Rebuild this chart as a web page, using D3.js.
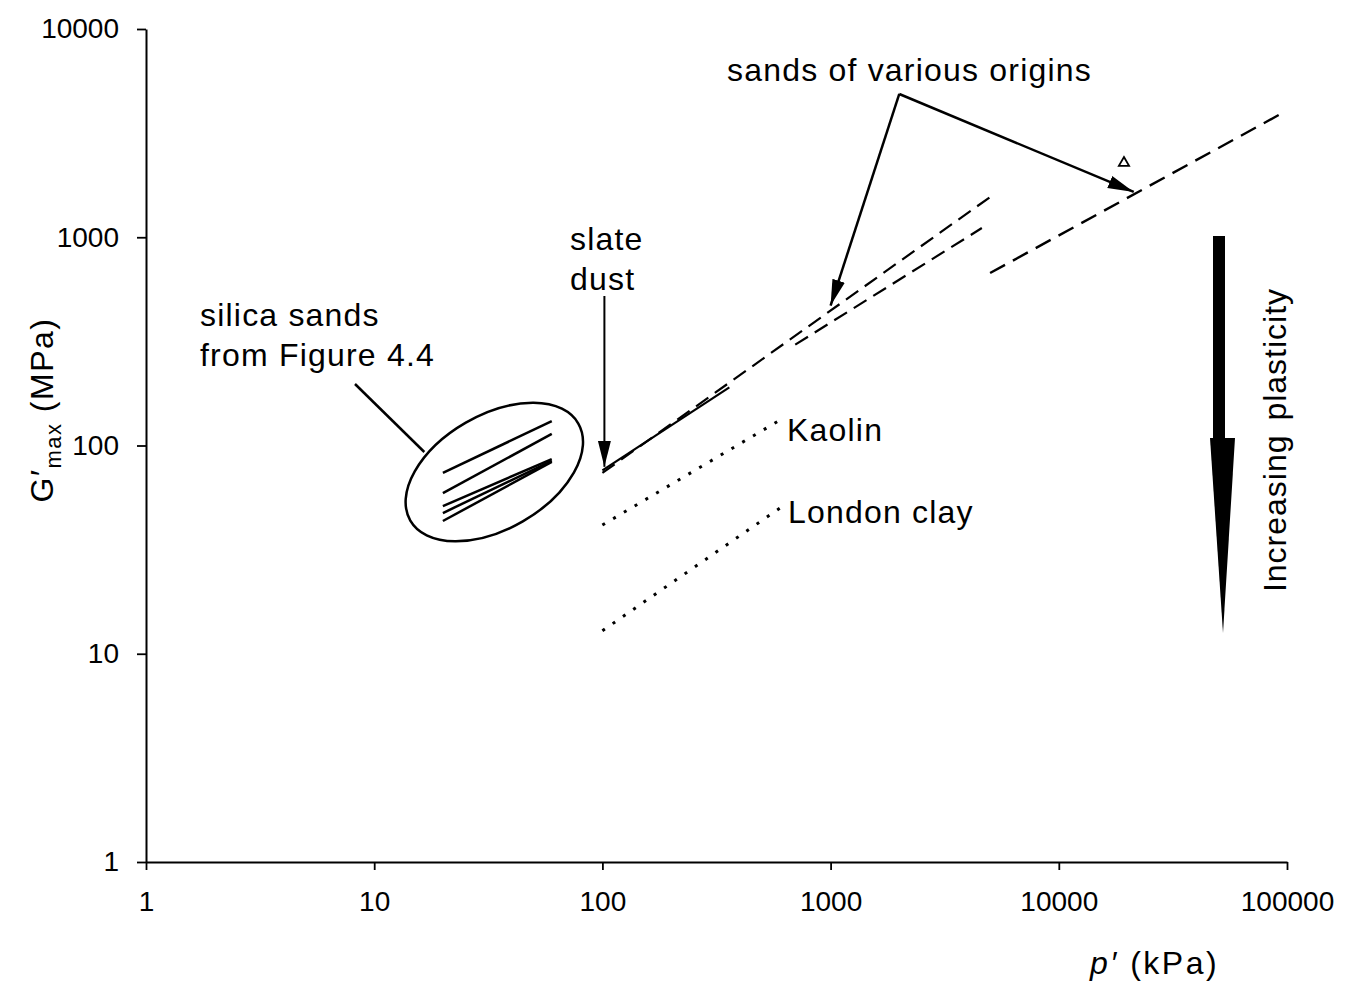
<!DOCTYPE html>
<html><head><meta charset="utf-8">
<script src="https://cdn.jsdelivr.net/npm/d3@7"></script>
<style>
body{margin:0;background:#fff}
text{font-family:"Liberation Sans",Arial,Helvetica,sans-serif;fill:#000}
</style>
</head><body>
<svg id="c" width="1349" height="982"></svg>
<script>
// ---------- data ----------
const xTickValues = [1, 10, 100, 1000, 10000, 100000];
const xTickLabels = ["1", "10", "100", "1000", "10000", "100000"];
const yTickValues = [1, 10, 100, 1000, 10000];
const yTickLabels = ["1", "10", "100", "1000", "10000"];

// silica sands from Figure 4.4 (solid lines, p' 20 -> 60 kPa)
const silicaP = [20, 60];
const silicaStartG = [73.8, 59.1, 51.2, 47.4, 43.4];
const silicaEndG = [131, 113.6, 86.1, 84.3, 83.4];

// slate dust (solid, hand-drawn)
const slateDustP = [100, 360];
const slateDustG = [76, 190];

// sands of various origins (dashed)
const sandUpperP = [100, 5000];
const sandUpperG = [73.8, 1560];
const sandLowerP = [700, 4600];
const sandLowerG = [305, 1107];
const sandHighP = [5000, 92000];
const sandHighG = [673, 3864];
const triangleP = [19300];
const triangleG = [2275];

// clays (dotted)
const kaolinP = [100, 600];
const kaolinG = [41.5, 132.5];
const londonP = [100, 600];
const londonG = [12.9, 50.1];

// ---------- chart ----------
const svg = d3.select("#c");
const x = d3.scaleLog().domain([1, 100000]).range([146, 1287]);
const y = d3.scaleLog().domain([1, 10000]).range([862, 29]);

const defs = svg.append("defs");
defs.append("marker").attr("id", "ah").attr("markerUnits", "userSpaceOnUse")
  .attr("viewBox", "-26 -7 27 14").attr("refX", 0).attr("refY", 0)
  .attr("markerWidth", 27).attr("markerHeight", 14).attr("orient", "auto")
  .append("path").attr("d", "M0,0 L-26,-6.5 L-26,6.5 Z").attr("fill", "#000");

// axes
const minorX = x.ticks().filter(d => !xTickValues.includes(d));
const minorY = y.ticks().filter(d => !yTickValues.includes(d));

const gx = svg.append("g").attr("transform", `translate(0,${y(1)})`);
gx.call(d3.axisBottom(x).tickValues(minorX).tickSize(6).tickSizeOuter(0).tickFormat(""));
gx.call(d3.axisBottom(x).tickValues(xTickValues).tickSize(8).tickSizeOuter(0).tickPadding(21)
  .tickFormat((d, i) => xTickLabels[i]));
const gy = svg.append("g").attr("transform", `translate(${x(1)},0)`);
gy.call(d3.axisLeft(y).tickValues(minorY).tickSize(6).tickSizeOuter(0).tickFormat(""));
gy.call(d3.axisLeft(y).tickValues(yTickValues).tickSize(9).tickSizeOuter(0).tickPadding(18)
  .tickFormat((d, i) => yTickLabels[i]));
svg.selectAll(".domain").attr("stroke", "#000").attr("stroke-width", 2);
svg.selectAll(".tick line").attr("stroke", "#000").attr("stroke-width", 1.8);
svg.selectAll(".tick text").attr("font-size", 28).attr("font-family", '"Liberation Sans",Arial,sans-serif').attr("fill", "#000");

// axis titles
const yl = svg.append("text").attr("transform", `translate(53,${410}) rotate(-90)`)
  .attr("text-anchor", "middle").attr("font-size", 32).attr("letter-spacing", 1.5);
yl.append("tspan").text("G\u2032");
yl.append("tspan").attr("font-size", 22).attr("dy", 8).text("max");
yl.append("tspan").attr("dy", -8).text(" (MPa)");

const xl = svg.append("text").attr("x", 1090).attr("y", 974).attr("font-size", 32).attr("letter-spacing", 2.5);
xl.append("tspan").attr("font-style", "italic").text("p\u2032");
xl.append("tspan").text(" (kPa)");

const line = (ps, gs) => d3.line()(ps.map((p, i) => [x(p), y(gs[i])]));

// silica sands lines
silicaStartG.forEach((g0, i) => {
  svg.append("path").attr("d", line(silicaP, [g0, silicaEndG[i]]))
    .attr("stroke", "#000").attr("stroke-width", 2.5).attr("fill", "none");
});
// ellipse around them
svg.append("ellipse")
  .attr("transform", `translate(${x(33.6)},${y(74.6)}) rotate(-30)`)
  .attr("rx", 97).attr("ry", 57)
  .attr("fill", "none").attr("stroke", "#000").attr("stroke-width", 2.5);

// slate dust
svg.append("path").attr("d", line(slateDustP, slateDustG))
  .attr("stroke", "#000").attr("stroke-width", 2.2).attr("fill", "none");
// sands dashed
svg.append("path").attr("d", line(sandUpperP, sandUpperG))
  .attr("stroke", "#000").attr("stroke-width", 2.2).attr("fill", "none").attr("stroke-dasharray", "15,8");
svg.append("path").attr("d", line(sandLowerP, sandLowerG))
  .attr("stroke", "#000").attr("stroke-width", 2.2).attr("fill", "none").attr("stroke-dasharray", "15,8");
svg.append("path").attr("d", line(sandHighP, sandHighG))
  .attr("stroke", "#000").attr("stroke-width", 2.4).attr("fill", "none").attr("stroke-dasharray", "17,9");
svg.selectAll(".tri").data(triangleP).enter().append("path")
  .attr("transform", (d, i) => `translate(${x(d)},${y(triangleG[i])})`)
  .attr("d", d3.symbol(d3.symbolTriangle, 45)())
  .attr("fill", "#fff").attr("stroke", "#000").attr("stroke-width", 1.8);

// clays dotted
[[kaolinP, kaolinG], [londonP, londonG]].forEach(([ps, gs]) => {
  svg.append("path").attr("d", line(ps, gs))
    .attr("stroke", "#000").attr("stroke-width", 3).attr("fill", "none").attr("stroke-dasharray", "3,9.5");
});

// ---------- annotations ----------
const T = (tx, ty, s) => svg.append("text").attr("x", tx).attr("y", ty)
  .attr("font-size", 32).attr("letter-spacing", 1.2).text(s);
T(200, 326, "silica sands");
T(200, 366, "from Figure 4.4");
svg.append("line").attr("x1", 355).attr("y1", 384).attr("x2", x(33.6) - 70).attr("y2", y(74.6) - 20)
  .attr("stroke", "#000").attr("stroke-width", 2.5);

T(570, 250, "slate");
T(570, 290, "dust");
svg.append("line").attr("x1", x(100) + 2).attr("y1", 296).attr("x2", x(100) + 2).attr("y2", y(79))
  .attr("stroke", "#000").attr("stroke-width", 2).attr("marker-end", "url(#ah)");

T(787, 441, "Kaolin");
T(788, 523, "London clay");

T(727, 81, "sands of various origins");
const ax0 = x(2000), ay0 = y(4875);
svg.append("line").attr("x1", ax0).attr("y1", ay0).attr("x2", x(1000)).attr("y2", y(470))
  .attr("stroke", "#000").attr("stroke-width", 2.5).attr("marker-end", "url(#ah)");
svg.append("line").attr("x1", ax0).attr("y1", ay0).attr("x2", x(21300)).attr("y2", y(1650))
  .attr("stroke", "#000").attr("stroke-width", 2.5).attr("marker-end", "url(#ah)");

// increasing plasticity arrow
svg.append("rect").attr("x", 1213).attr("y", 236).attr("width", 12).attr("height", 204).attr("fill", "#000");
svg.append("path").attr("d", "M1210,438 L1235,438 L1223,633 Z").attr("fill", "#000");
svg.append("text").attr("transform", "translate(1286,440) rotate(-90)")
  .attr("text-anchor", "middle").attr("font-size", 32).attr("letter-spacing", 1).attr("word-spacing", 4)
  .text("Increasing plasticity");
</script>
</body></html>
